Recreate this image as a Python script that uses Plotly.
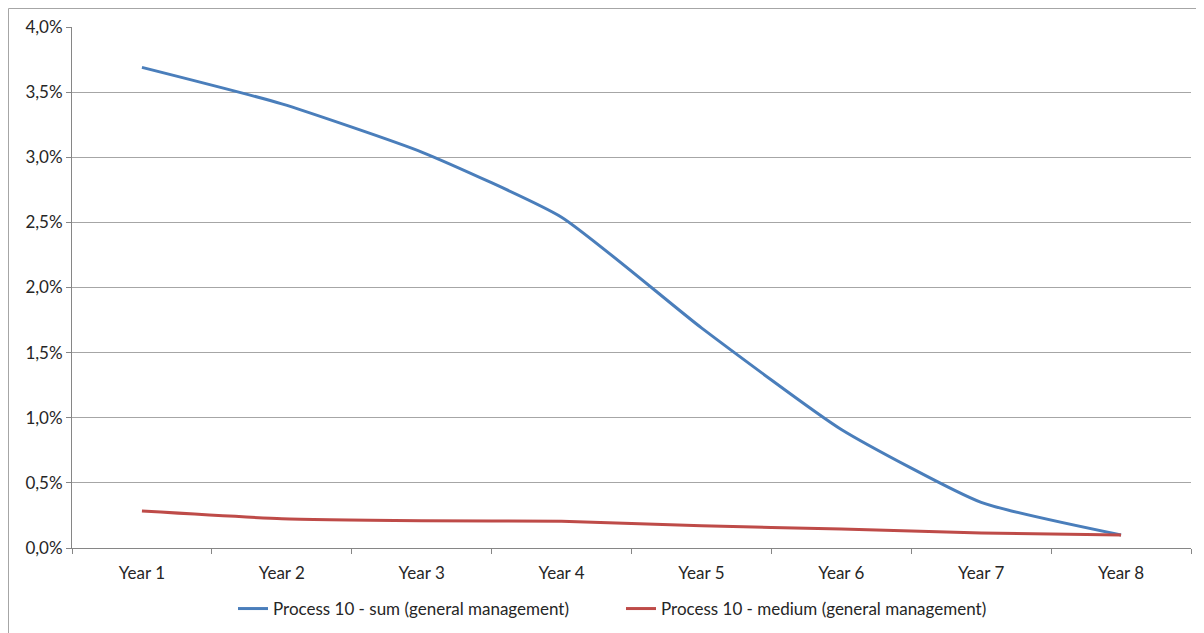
import plotly.graph_objects as go

categories = ["Year 1", "Year 2", "Year 3", "Year 4", "Year 5", "Year 6", "Year 7", "Year 8"]
sum_values = [0.0369, 0.0341, 0.0304, 0.0254, 0.0169, 0.0091, 0.0035, 0.0010]
medium_values = [0.00284, 0.00225, 0.0021, 0.00205, 0.0017, 0.00145, 0.00115, 0.0010]
series_names = ["Process 10 - sum (general management)", "Process 10 - medium (general management)"]
y_ticks = [0, 0.005, 0.01, 0.015, 0.02, 0.025, 0.03, 0.035, 0.04]

# page has an ~8px body offset; target plot area in window: x 72-1191, y 27-548
OFF = 8
W, H = 1204 - OFF, 633 - OFF
L, T = 72 - OFF, 27 - OFF
pw, ph = 1119, 521
R = W - L - pw
B = H - T - ph

fig = go.Figure()
fig.add_trace(go.Scatter(x=categories, y=sum_values, name=series_names[0], mode="lines",
                         line=dict(color="#4a7ebb", width=3, shape="spline", smoothing=0.5)))
fig.add_trace(go.Scatter(x=categories, y=medium_values, name=series_names[1], mode="lines",
                         line=dict(color="#be4b48", width=3, shape="spline", smoothing=0.5)))

font = "Lato, 'Open Sans', sans-serif"
fig.update_layout(
    width=W, height=H,
    margin=dict(l=L, r=R, t=T, b=B, autoexpand=False),
    paper_bgcolor="white", plot_bgcolor="white",
    separators=",.",
    font=dict(family=font, size=17, color="#262626"),
    showlegend=True,
    legend=dict(orientation="h", xref="container", x=(240 - OFF - 7) / W, xanchor="left",
                yref="container", y=1 - (609 - OFF) / H, yanchor="middle",
                font=dict(size=17), itemwidth=30, entrywidth=343, bgcolor="rgba(0,0,0,0)"),
    xaxis=dict(type="category", showgrid=False, showline=True, linecolor="#868686", linewidth=1,
               ticks="outside", ticklen=5, tickcolor="#868686", tickson="boundaries",
               range=[-0.5, 7.5], fixedrange=True, ticklabelstandoff=10, automargin=False),
    yaxis=dict(range=[0, 0.04], tickvals=y_ticks, tickformat=".1%", showgrid=True,
               gridcolor="#a6a6a6", gridwidth=1, showline=True, linecolor="#868686", linewidth=1,
               ticks="outside", ticklen=5, tickcolor="#868686", zeroline=False, fixedrange=True,
               automargin=False),
)

# chart area border (cropped on right/bottom in reference), kept just inside the figure
bx = (OFF + 0.5 - 72) / pw
by = (548 - OFF - 0.5) / ph
fig.add_shape(type="line", xref="paper", yref="paper", x0=bx, x1=(1204 - 72) / pw + 0.01, y0=by, y1=by,
              line=dict(color="#a6a6a6", width=1))
fig.add_shape(type="line", xref="paper", yref="paper", x0=bx, x1=bx, y0=by, y1=-(633 - 548 + 5) / ph,
              line=dict(color="#a6a6a6", width=1))

fig.write_html("out.html")
